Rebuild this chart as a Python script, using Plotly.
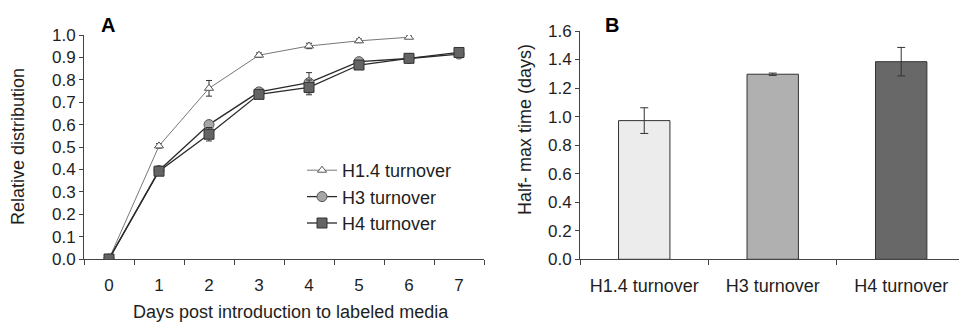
import plotly.graph_objects as go

W, H = 959, 322

days = ["0", "1", "2", "3", "4", "5", "6", "7"]
h14_days = ["0", "1", "2", "3", "4", "5", "6"]
h14_vals = [0.0, 0.505, 0.762, 0.91, 0.951, 0.974, 0.990]
h14_err = [0.0, 0.01, 0.035, 0.01, 0.012, 0.008, 0.005]
h3_vals = [0.0, 0.395, 0.600, 0.746, 0.787, 0.881, 0.895, 0.915]
h3_err = [0.0, 0.008, 0.01, 0.01, 0.045, 0.01, 0.008, 0.008]
h4_vals = [0.0, 0.392, 0.557, 0.735, 0.766, 0.866, 0.896, 0.922]
h4_err = [0.0, 0.01, 0.03, 0.01, 0.033, 0.01, 0.008, 0.008]

bar_cats = ["H1.4 turnover", "H3 turnover", "H4 turnover"]
bar_vals = [0.972, 1.297, 1.385]
bar_err = [0.09, 0.008, 0.10]
bar_colors = ["#ececec", "#b0b0b0", "#686868"]

FONT = "Liberation Sans, Arial, sans-serif"
AX = "#444444"
TXT = "#1e1e1e"

fig = go.Figure()

fig.add_trace(go.Scatter(
    x=h14_days, y=h14_vals, name="H1.4 turnover", mode="lines+markers",
    line=dict(color="#777777", width=1),
    marker=dict(symbol="triangle-up", size=8, color="white", line=dict(color="#555555", width=1)),
    error_y=dict(type="data", array=h14_err, color="#333333", thickness=1, width=3),
    xaxis="x", yaxis="y"))
fig.add_trace(go.Scatter(
    x=days, y=h3_vals, name="H3 turnover", mode="lines+markers",
    line=dict(color="#2a2a2a", width=1.3),
    marker=dict(symbol="circle", size=10, color="#a6a6a6", line=dict(color="#555555", width=1)),
    error_y=dict(type="data", array=h3_err, color="#333333", thickness=1, width=3),
    xaxis="x", yaxis="y"))
fig.add_trace(go.Scatter(
    x=days, y=h4_vals, name="H4 turnover", mode="lines+markers",
    line=dict(color="#2a2a2a", width=1.3),
    marker=dict(symbol="square", size=10, color="#646464", line=dict(color="#333333", width=1)),
    error_y=dict(type="data", array=h4_err, color="#333333", thickness=1, width=3),
    xaxis="x", yaxis="y"))

fig.add_trace(go.Bar(
    x=bar_cats, y=bar_vals, width=0.4, showlegend=False,
    marker=dict(color=bar_colors, line=dict(color="#333333", width=1)),
    error_y=dict(type="data", array=bar_err, color="#333333", thickness=1, width=4),
    xaxis="x2", yaxis="y2"))


def py(p):
    return (H - p) / H


def axis(size=17, ticklen=5):
    return dict(showgrid=False, zeroline=False, showline=True, linecolor=AX, linewidth=1,
                ticks="outside", tickcolor=AX, ticklen=ticklen, tickwidth=1, automargin=False,
                tickfont=dict(family=FONT, size=size, color=TXT))


fig.update_layout(
    template="none",
    width=W, height=H, margin=dict(l=0, r=0, t=0, b=0, pad=0), autosize=False,
    paper_bgcolor="white", plot_bgcolor="white",
    font=dict(family=FONT, color=TXT),
    xaxis=dict(domain=[84 / W, 484 / W], type="category", categoryorder="array",
               categoryarray=days, tickson="boundaries", range=[-0.5, 7.5],
               anchor="y", ticklabelstandoff=11, **axis(17, 5)),
    yaxis=dict(domain=[py(259), py(35)], range=[0, 1.0], dtick=0.1, tickformat=".1f",
               anchor="x", **axis(17, 4)),
    xaxis2=dict(domain=[580 / W, 1.0], type="category", tickson="boundaries",
                range=[-0.5, 2.45], anchor="y2", ticklabelstandoff=10, **axis(18, 5)),
    yaxis2=dict(domain=[py(259.3), py(31)], range=[0, 1.6], dtick=0.2, tickformat=".1f",
                anchor="x2", **axis(17, 4)),
    legend=dict(x=302 / W, y=py(152), xanchor="left", yanchor="top",
                font=dict(family=FONT, size=18, color=TXT),
                bgcolor="rgba(0,0,0,0)", tracegroupgap=0),
    annotations=[
        dict(text="<b>A</b>", x=108 / W, y=py(25), xref="paper", yref="paper",
             xanchor="center", yanchor="middle",
             showarrow=False, font=dict(family=FONT, size=20, color="black")),
        dict(text="<b>B</b>", x=612 / W, y=py(25), xref="paper", yref="paper",
             xanchor="center", yanchor="middle",
             showarrow=False, font=dict(family=FONT, size=20, color="black")),
        dict(text="Relative distribution", x=18 / W, y=py(147), xref="paper", yref="paper",
             xanchor="center", yanchor="middle",
             textangle=-90, showarrow=False, font=dict(family=FONT, size=18, color=TXT)),
        dict(text="Days post introduction to labeled media", x=291 / W, y=py(312),
             xref="paper", yref="paper", xanchor="center", yanchor="middle",
             showarrow=False, font=dict(family=FONT, size=18, color=TXT)),
        dict(text="Half- max time (days)", x=525 / W, y=py(130), xref="paper", yref="paper",
             xanchor="center", yanchor="middle",
             textangle=-90, showarrow=False, font=dict(family=FONT, size=18, color=TXT)),
    ],
)

fig.write_html("out.html", config={"displayModeBar": False},
               post_script="document.body.style.margin='0';")
